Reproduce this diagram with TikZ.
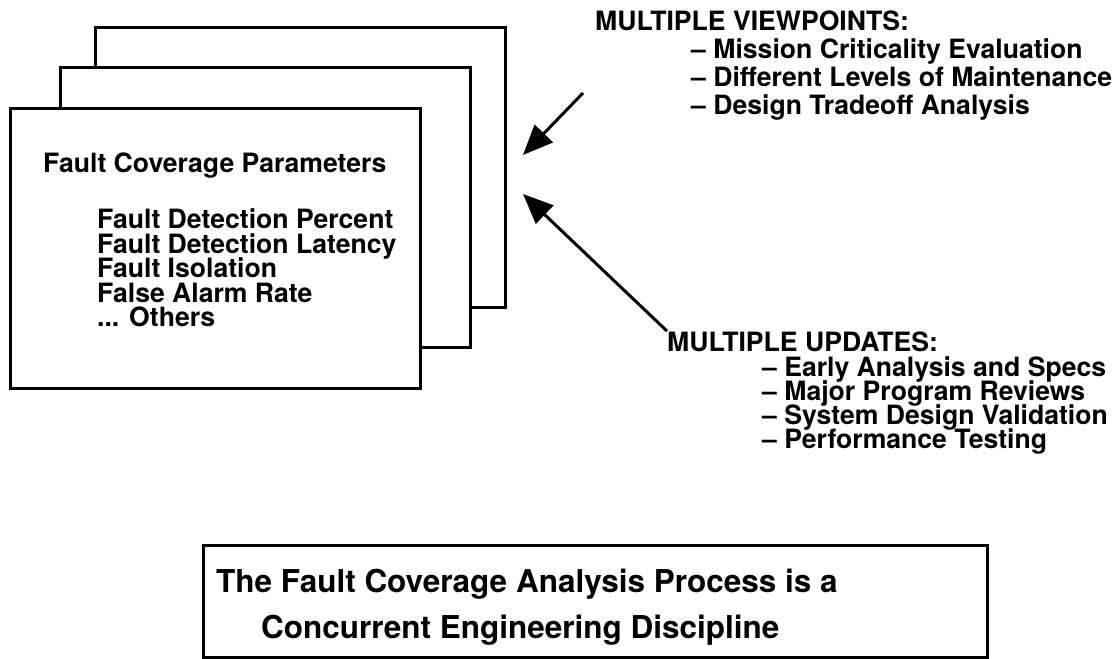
\documentclass[tikz,border=0pt]{standalone}
\usepackage{fontspec}
\setmainfont{TeX Gyre Heros}
\usetikzlibrary{positioning}
\usetikzlibrary{arrows.meta}

\tikzset{
  sheet/.style={draw, line width=3pt, fill=white, minimum width=410pt, minimum height=280pt, inner sep=0pt},
  txt/.style={anchor=base west, inner sep=0pt, font=\bfseries\fontsize{26.6}{30}\selectfont},
  bigtxt/.style={anchor=base west, inner sep=0pt, font=\bfseries\fontsize{31.5}{36}\selectfont},
  pointer/.style={line width=3pt, -{Triangle[length=30pt, width=25pt]}}
}

\begin{document}
\begin{tikzpicture}[x=1pt, y=-1pt, on grid]
   \useasboundingbox (0,0) rectangle (1120,659);
   % stack of sheets
   \node[sheet] (back) at (300.5,167.5) {};
   \node[sheet] (mid) [below left=40pt and 35pt of back] {};
   \node[sheet] (front) [below left=41pt and 50pt of mid] {};
   \node[txt] (params) at (43,172) {Fault Coverage Parameters};
   \foreach \p [count=\i from 0] in {Fault Detection Percent, Fault Detection Latency, Fault Isolation, False Alarm Rate, {{...} Others}}
      \node[txt] (par\i) at (97,{228.5+24.6*\i}) {\p};

   % viewpoints
   \node[txt] (vp) at (595,30) {MULTIPLE VIEWPOINTS:};
   \foreach \p [count=\i from 0] in {Mission Criticality Evaluation, Different Levels of Maintenance, Design Tradeoff Analysis}
      \node[txt] (vp\i) at (691,{58.3+28.3*\i}) {\textendash{} \p};

   % updates
   \node[txt] (upd) at (667,351) {MULTIPLE UPDATES:};
   \foreach \p [count=\i from 0] in {Early Analysis and Specs, Major Program Reviews, System Design Validation, Performance Testing}
      \node[txt] (upd\i) at (762,{376+24.2*\i}) {\textendash{} \p};

   \coordinate (vpTail) at (583,93);
   \coordinate (vpTip) at (523,155);
   \coordinate (updTip) at (523,194);
   \draw[pointer] (vpTail) -- (vpTip);
   \draw[pointer] (upd.north west) -- (updTip);

   % conclusion
   \node[draw, line width=3pt, minimum width=784pt, minimum height=112pt] (concl) at (595,601) {};
   \node[bigtxt] (line1) at (216,592) {The Fault Coverage Analysis Process is a};
   \node[bigtxt] (line2) at (261,638) {Concurrent Engineering Discipline};
\end{tikzpicture}
\end{document}
